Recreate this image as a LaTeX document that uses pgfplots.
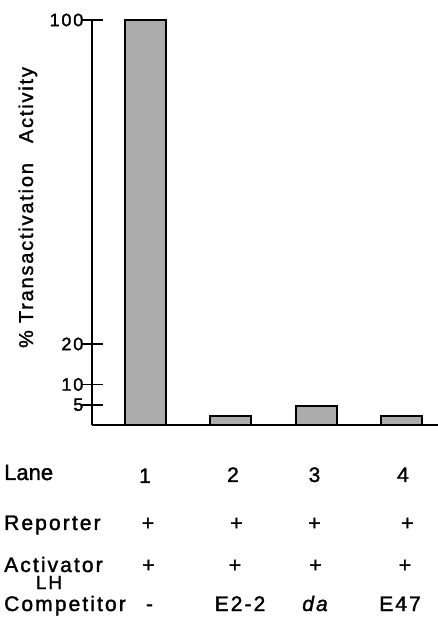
\documentclass[border=0pt]{standalone}
\usepackage{fontspec}
\setmainfont{Liberation Sans}[FakeBold=1.6]
\newfontfamily\spaced{Liberation Sans}[LetterSpace=10,FakeBold=1.6]
\newfontfamily\ylabfont{Liberation Sans}[LetterSpace=9,FakeBold=1.6]
\usepackage{pgfplots}
\pgfplotsset{compat=1.18}
\definecolor{barfill}{RGB}{172,172,172}
\begin{document}
\begin{tikzpicture}
\path[use as bounding box] (0,0) rectangle (438bp,618bp);
\begin{axis}[
  at={(92bp,193bp)}, anchor=south west,
  scale only axis, width=346bp, height=405bp,
  xmin=0.376, xmax=4.428, ymin=0, ymax=100,
  axis x line*=bottom, axis y line*=left,
  axis line style={line width=1.6bp, black},
  xtick=\empty,
  ytick={5,10,20,100},
  tick align=center, major tick length=21bp,
  ytick style={line width=1.6bp, black},
  /pgf/number format/assume math mode=true,
  yticklabel={\fontsize{18bp}{18bp}\spaced\pgfmathprintnumber{\tick}},
  yticklabel style={inner sep=0pt, anchor=east, xshift=2bp},
  clip=false,
]
\addplot[ybar, bar width=0.48, fill=barfill, draw=black, line width=2bp]
  coordinates {(1,100) (2,2.1) (3,4.7) (4,2.2)};
\end{axis}
% y label
\node[rotate=90, anchor=base, inner sep=0pt] at (33bp,410.5bp)
  {\fontsize{20bp}{20bp}\ylabfont \%\hspace{7bp}Transactivation\hspace{20bp}Activity};
% row labels
\node[anchor=base west, inner sep=0pt] at (4bp,138bp) {\fontsize{22bp}{22bp}\selectfont Lane};
\node[anchor=base west, inner sep=0pt] at (4bp,88bp) {\fontsize{21bp}{21bp}\spaced Reporter};
\node[anchor=base west, inner sep=0pt] at (4bp,46bp) {\fontsize{21bp}{21bp}\spaced Activator};
\node[anchor=base, inner sep=0pt] at (49bp,29bp) {\fontsize{19bp}{19bp}\spaced LH};
\node[anchor=base west, inner sep=0pt] at (4bp,7bp) {\fontsize{21bp}{21bp}\spaced Competitor};
% lane numbers
\node[anchor=base, inner sep=0pt] at (145bp,135bp) {\fontsize{21bp}{21bp}\selectfont 1};
\node[anchor=base, inner sep=0pt] at (233bp,136bp) {\fontsize{21bp}{21bp}\selectfont 2};
\node[anchor=base, inner sep=0pt] at (314.5bp,136bp) {\fontsize{21bp}{21bp}\selectfont 3};
\node[anchor=base, inner sep=0pt] at (403bp,136bp) {\fontsize{21bp}{21bp}\selectfont 4};
% reporter
\node[anchor=base, inner sep=0pt] at (148bp,88bp) {\fontsize{21bp}{21bp}\selectfont +};
\node[anchor=base, inner sep=0pt] at (236.5bp,88bp) {\fontsize{21bp}{21bp}\selectfont +};
\node[anchor=base, inner sep=0pt] at (314.5bp,88bp) {\fontsize{21bp}{21bp}\selectfont +};
\node[anchor=base, inner sep=0pt] at (407.5bp,88bp) {\fontsize{21bp}{21bp}\selectfont +};
% activator
\node[anchor=base, inner sep=0pt] at (148.5bp,46bp) {\fontsize{21bp}{21bp}\selectfont +};
\node[anchor=base, inner sep=0pt] at (235bp,46bp) {\fontsize{21bp}{21bp}\selectfont +};
\node[anchor=base, inner sep=0pt] at (315.5bp,46bp) {\fontsize{21bp}{21bp}\selectfont +};
\node[anchor=base, inner sep=0pt] at (405bp,46bp) {\fontsize{21bp}{21bp}\selectfont +};
% competitor
\node[anchor=base, inner sep=0pt] at (149.5bp,7bp) {\fontsize{21bp}{21bp}\selectfont -};
\node[anchor=base, inner sep=0pt] at (240bp,7bp) {\fontsize{21bp}{21bp}\spaced E2-2};
\node[anchor=base, inner sep=0pt] at (315bp,7bp) {\fontsize{21bp}{21bp}\spaced\itshape da};
\node[anchor=base, inner sep=0pt] at (400bp,7bp) {\fontsize{21bp}{21bp}\spaced E47};
\end{tikzpicture}
\end{document}
